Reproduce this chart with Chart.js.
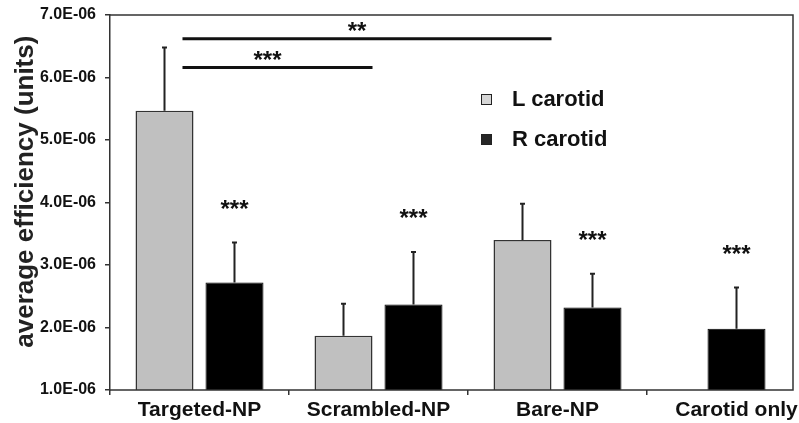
<!DOCTYPE html>
<html lang="en">
<head>
<meta charset="utf-8" />
<title>Average efficiency</title>
<script src="https://cdn.jsdelivr.net/npm/chart.js@4/dist/chart.umd.min.js"></script>
<style>
  html, body { margin: 0; padding: 0; background: #fff; }
  #wrap { position: relative; width: 799px; height: 423px; overflow: hidden; }
  #chart { display: block; }
  .leg { position: absolute; left: 481px; height: 24px; display: flex; align-items: center;
         font: bold 22px "Liberation Sans", Arial, sans-serif; color: #111; }
  .leg span.box { width: 9px; height: 9px; border: 1.5px solid #222; margin-right: 20px; }
</style>
</head>
<body>
<div id="wrap">
  <!-- plot runs a little past the visible frame, like the original figure -->
  <canvas id="chart" width="826" height="423"></canvas>
  <div id="legend"></div>
</div>
<script>
  // values
  const categories = ['Targeted-NP', 'Scrambled-NP', 'Bare-NP', 'Carotid only'];
  const seriesNames = ['L carotid', 'R carotid'];
  const lCarotid = [5.47e-6, 1.87e-6, 3.40e-6, null];
  const rCarotid = [2.72e-6, 2.37e-6, 2.32e-6, 1.98e-6];
  const lError = [1.01e-6, 0.51e-6, 0.58e-6, null];
  const rError = [0.64e-6, 0.84e-6, 0.54e-6, 0.66e-6];
  const rStars = ['***', '***', '***', '***'];
  // comparisons against Targeted-NP (L carotid)
  const bracketTo = [1, 2];
  const bracketY = [6.16e-6, 6.62e-6];
  const bracketLabel = ['***', '**'];
  const yMin = 1e-6, yMax = 7e-6, yStep = 1e-6;

  const FONT = '"Liberation Sans", Arial, sans-serif';
  const colors = ['#c0c0c0', '#000000'];
  const legendFill = ['#d6d6d6', '#262626'];
  const wrap = document.getElementById('wrap');

  function sci(v) {
    const parts = v.toExponential(1).split('e');
    const ex = parseInt(parts[1], 10);
    return parts[0] + 'E' + (ex < 0 ? '-' : '+') + String(Math.abs(ex)).padStart(2, '0');
  }

  const extras = {
    id: 'extras',
    afterDatasetsDraw(chart) {
      const ctx = chart.ctx;
      const y = chart.scales.y;
      ctx.save();
      ctx.strokeStyle = '#222';
      ctx.lineWidth = 2;
      chart.data.datasets.forEach((ds, i) => {
        const meta = chart.getDatasetMeta(i);
        meta.data.forEach((bar, j) => {
          if (ds.data[j] == null) return;
          const top = y.getPixelForValue(ds.data[j] + ds.errors[j]);
          ctx.beginPath();
          ctx.moveTo(bar.x, bar.y);
          ctx.lineTo(bar.x, top);
          ctx.moveTo(bar.x - 2.5, top);
          ctx.lineTo(bar.x + 2.5, top);
          ctx.stroke();
          if (ds.stars && ds.stars[j]) {
            ctx.fillStyle = '#111';
            ctx.font = 'bold 24px ' + FONT;
            ctx.textAlign = 'center';
            ctx.textBaseline = 'alphabetic';
            ctx.fillText(ds.stars[j], bar.x, top - 35 + 9);
          }
        });
      });

      // significance brackets
      const lBars = chart.getDatasetMeta(0).data;
      const x0 = lBars[0].x + lBars[0].width * 0.31;
      ctx.lineWidth = 3;
      ctx.strokeStyle = '#111';
      bracketTo.forEach((to, k) => {
        const x1 = lBars[to].x + lBars[to].width / 2;
        const py = y.getPixelForValue(bracketY[k]);
        ctx.beginPath();
        ctx.moveTo(x0, py);
        ctx.lineTo(x1, py);
        ctx.stroke();
        ctx.fillStyle = '#111';
        ctx.font = 'bold 24px ' + FONT;
        ctx.textAlign = 'center';
        ctx.fillText(bracketLabel[k], (x0 + x1) / 2 - 10, py);
      });
      ctx.restore();
    },
    afterDraw(chart) {
      const ctx = chart.ctx;
      const a = chart.chartArea;
      const right = wrap.clientWidth - 6;
      ctx.save();
      ctx.strokeStyle = '#333';
      ctx.lineWidth = 1.5;
      ctx.beginPath();
      ctx.moveTo(a.left, a.top);
      ctx.lineTo(right, a.top);
      ctx.lineTo(right, a.bottom);
      ctx.lineTo(a.left, a.bottom);
      ctx.stroke();
      ctx.restore();
    }
  };

  const chart = new Chart(document.getElementById('chart'), {
    type: 'bar',
    data: {
      labels: categories,
      datasets: [
        { label: seriesNames[0], data: lCarotid, errors: lError,
          backgroundColor: colors[0], borderColor: '#333', borderWidth: 1.5 },
        { label: seriesNames[1], data: rCarotid, errors: rError, stars: rStars,
          backgroundColor: colors[1], borderColor: '#000', borderWidth: 1 }
      ]
    },
    options: {
      responsive: false,
      animation: false,
      skipNull: true,
      categoryPercentage: 0.782,
      barPercentage: 0.829,
      maxBarThickness: 58,
      layout: { padding: 0 },
      plugins: { legend: { display: false }, tooltip: { enabled: false } },
      scales: {
        x: {
          grid: { offset: true, drawOnChartArea: false, tickLength: 5, color: '#333', lineWidth: 1.5 },
          border: { display: false },
          ticks: { autoSkip: false, maxRotation: 0, padding: 3, color: '#111',
                   font: { family: FONT, size: 21, weight: 'bold' } },
          afterFit: s => { s.height = 33; }
        },
        y: {
          min: yMin,
          max: yMax,
          grid: { drawOnChartArea: false, tickLength: 5, color: '#333', lineWidth: 1.5 },
          border: { color: '#333', width: 1.5 },
          ticks: { stepSize: yStep, padding: 9, color: '#111', callback: v => sci(v),
                   font: { family: FONT, size: 16, weight: 'bold' } },
          title: { display: true, text: '   average efficiency (units)', color: '#222',
                   padding: { top: 10, bottom: 0 },
                   font: { family: FONT, size: 26, weight: 'bold' } },
          afterFit: s => { s.width = 110; s.paddingTop = 15; }
        }
      }
    },
    plugins: [extras]
  });

  // legend drawn from the dataset names
  const legend = document.getElementById('legend');
  seriesNames.forEach((name, i) => {
    const row = document.createElement('div');
    row.className = 'leg';
    row.style.top = (87 + i * 40) + 'px';
    const box = document.createElement('span');
    box.className = 'box';
    box.style.background = legendFill[i];
    row.appendChild(box);
    row.appendChild(document.createTextNode(name));
    legend.appendChild(row);
  });
</script>
</body>
</html>
